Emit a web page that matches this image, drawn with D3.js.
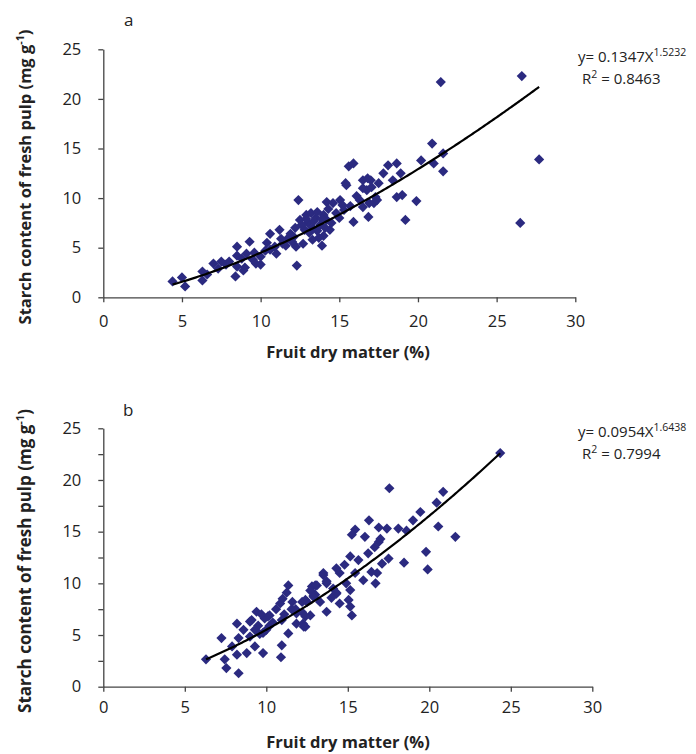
<!DOCTYPE html>
<html>
<head>
<meta charset="utf-8">
<script src="https://cdn.jsdelivr.net/npm/d3@7"></script>
<style>
	body { margin: 0; background: #fff; }
	text { font-family: "Open Sans", "Noto Sans", sans-serif; fill: #222; }
</style>
</head>
<body>
<div id="chart"></div>
<script>
	// panel a : fruit dry matter (%) vs starch (mg g-1)
	var dryA = [4.4, 5.0, 5.2, 6.3, 6.3, 6.6, 7.0, 7.5, 7.8, 8.5, 8.5, 8.5, 8.4, 8.9, 8.8, 9.3, 9.1, 9.5, 9.7, 10.0,
		10.0, 10.3, 10.6, 10.6, 10.9, 11.2, 11.0, 11.4, 11.7, 12.1, 12.3, 12.4, 12.5, 12.2, 12.9, 12.7, 12.25, 13.2, 13.0, 13.3,
		13.5, 13.6, 13.8, 13.9, 14.0, 14.2, 14.2, 14.0, 13.4, 13.1, 12.8, 12.6, 11.9, 11.6, 13.7, 14.4, 14.6, 15.05, 15.3, 15.4,
		15.6, 15.9, 15.9, 16.3, 16.5, 16.75, 16.85, 17.05, 17.3, 17.5, 17.8, 18.1, 18.65, 18.9, 18.65, 19.0, 19.2, 19.9, 20.2, 20.9,
		21.0, 21.6, 21.6, 21.45, 26.6, 27.7, 26.5, 16.5, 17.2, 16.5, 18.4, 17.4, 15.45, 14.8, 14.5, 15.0, 13.3, 12.0, 10.4, 9.0,
		11.3, 15.7, 16.1, 17.0, 16.8, 13.9, 14.1, 12.9, 13.6, 15.2, 8.0, 9.6, 7.3, 14.3, 16.9];
	var starchA = [1.6, 2.0, 1.1, 2.6, 1.7, 2.3, 3.4, 3.6, 3.3, 5.1, 4.2, 3.1, 2.1, 2.7, 3.9, 5.6, 4.4, 3.8, 3.4, 4.1,
		3.3, 4.7, 6.4, 4.8, 5.1, 6.8, 4.4, 5.4, 5.9, 6.1, 3.2, 9.8, 7.8, 7.0, 8.3, 5.4, 5.1, 8.5, 7.5, 7.0,
		8.0, 6.7, 7.3, 5.2, 6.2, 7.8, 9.6, 8.3, 7.7, 6.5, 6.8, 7.3, 6.4, 5.2, 6.0, 6.8, 9.5, 9.8, 8.8, 11.5,
		13.2, 13.5, 7.6, 9.8, 11.8, 10.8, 8.1, 11.1, 10.1, 11.5, 12.5, 13.3, 13.5, 12.5, 10.1, 10.3, 7.8, 9.7, 13.8, 15.5,
		13.5, 14.5, 12.7, 21.7, 22.3, 13.9, 7.5, 9.1, 9.5, 11.0, 11.8, 9.8, 11.3, 8.5, 7.5, 8.0, 5.8, 5.6, 5.5, 3.0,
		5.9, 9.2, 10.2, 11.8, 12.0, 7.9, 7.0, 7.9, 8.6, 9.3, 3.6, 4.5, 2.9, 8.9, 9.5];

	// panel b
	var dryB = [6.3, 7.25, 7.45, 7.55, 8.2, 8.3, 8.2, 8.3, 7.9, 8.8, 9.0, 9.1, 9.4, 9.5, 9.3, 9.8, 9.8, 10.1, 10.2, 10.85,
		10.95, 10.95, 10.9, 11.25, 11.35, 11.35, 11.55, 11.85, 12.2, 12.4, 12.7, 12.8, 12.9, 13.5, 13.7, 13.7, 14.3, 14.3, 9.0, 9.3,
		9.6, 9.9, 10.0, 10.2, 11.8, 11.85, 12.25, 12.2, 12.5, 13.0, 13.0, 12.7, 17.55, 20.85, 20.45, 19.45, 19.0, 21.6, 20.55, 19.8,
		19.9, 18.45, 18.1, 18.6, 17.4, 16.9, 16.3, 16.05, 15.45, 15.25, 16.9, 17.0, 16.65, 16.25, 17.5, 17.1, 15.15, 15.65, 14.8, 14.5,
		15.45, 16.45, 16.8, 16.7, 15.95, 13.5, 13.7, 13.1, 12.9, 14.1, 14.9, 15.15, 15.05, 15.15, 15.25, 14.5, 14.3, 12.4, 12.4, 12.3,
		24.35, 11.0, 10.6, 9.7, 8.6, 10.4, 11.1, 11.6, 13.3, 14.0];
	var starchB = [2.65, 4.7, 2.65, 1.8, 6.1, 4.7, 3.1, 1.3, 3.9, 3.25, 4.85, 6.45, 7.25, 5.9, 3.9, 3.25, 5.2, 6.8, 5.9, 8.05,
		6.45, 4.0, 2.85, 9.1, 9.8, 5.15, 7.5, 7.1, 8.2, 5.8, 6.9, 9.7, 8.8, 10.8, 10.0, 7.25, 11.45, 9.0, 6.3, 5.5,
		5.1, 6.6, 5.5, 6.9, 7.5, 6.1, 6.1, 7.2, 8.2, 9.8, 8.9, 9.3, 19.2, 18.85, 17.8, 16.9, 16.1, 14.5, 15.5, 13.05,
		11.35, 12.0, 15.3, 15.1, 15.3, 15.4, 16.1, 14.5, 15.2, 14.7, 14.0, 14.3, 13.5, 12.9, 12.4, 11.9, 12.6, 12.25, 11.8, 11.0,
		11.0, 11.1, 11.0, 10.0, 10.3, 11.0, 10.2, 9.8, 8.7, 9.5, 10.0, 9.35, 8.4, 7.75, 6.9, 8.05, 9.1, 8.4, 6.8, 5.8,
		22.6, 8.5, 7.5, 7.0, 5.5, 6.2, 7.0, 8.2, 8.2, 8.6];

	var xTicks = [0, 5, 10, 15, 20, 25, 30];
	var yTicks = [0, 5, 10, 15, 20, 25];
	// power trend lines  y = a * x^b
	var fitA = { a: 0.1347, b: 1.5232, from: 4.4, to: 27.7, eq: "0.1347", pow: "1.5232", r2: "0.8463" };
	var fitB = { a: 0.1433, b: 1.585, from: 6.3, to: 24.35, eq: "0.0954", pow: "1.6438", r2: "0.7994" };

	var width = 696, height = 754;
	var svg = d3.select("#chart").append("svg").attr("width", width).attr("height", height);

	const diamond = d3.symbol().type(d3.symbolSquare).size(52);

	function drawPanel(opt) {
		var x = d3.scaleLinear().domain([0, 30]).range(opt.xr);
		var y = d3.scaleLinear().domain([0, 25]).range(opt.yr);
		var g = svg.append("g");

		var xa = g.append("g").attr("transform", `translate(0,${opt.yr[0]})`)
			.call(d3.axisBottom(x).tickValues(xTicks).tickSize(5).tickPadding(opt.xPad).tickSizeOuter(0));
		var ya = g.append("g").attr("transform", `translate(${opt.xr[0]},0)`)
			.call(d3.axisLeft(y).tickValues(opt.yTickVals).tickSize(5).tickPadding(17).tickSizeOuter(0)
				.tickFormat(d => d % 5 === 0 ? d : ""));
		[xa, ya].forEach(a => {
			a.selectAll("path, line").attr("stroke", "#444").attr("stroke-width", 1.3);
			a.selectAll("text").style("font-size", "16.5px").attr("fill", "#222");
		});

		// points
		g.append("g").selectAll("path").data(opt.xs.map((d, i) => [d, opt.ys[i]])).join("path")
			.attr("d", diamond)
			.attr("transform", d => `translate(${x(d[0])},${y(d[1])}) rotate(45)`)
			.attr("fill", "#2b2a80");

		// trend line
		var f = opt.fit;
		var line = d3.line().x(d => x(d)).y(d => y(f.a * Math.pow(d, f.b)));
		g.append("path").datum(d3.range(f.from, f.to, 0.1).concat([f.to]))
			.attr("d", line).attr("fill", "none").attr("stroke", "#000").attr("stroke-width", 2.2);

		// titles
		g.append("text").attr("x", opt.letterX).attr("y", opt.letterY).style("font-size", "17px").text(opt.letter);
		g.append("text").attr("x", 348).attr("y", opt.xTitleY)
			.attr("text-anchor", "middle").style("font-size", "16.5px").style("font-weight", "bold")
			.text("Fruit dry matter (%)");
		var yt = g.append("text").attr("transform", `translate(${opt.yTitleX},${opt.yTitleY}) rotate(-90)`)
			.attr("text-anchor", "middle").style("font-size", opt.yTitleSize + "px").style("font-weight", "bold");
		yt.append("tspan").text("Starch content of  fresh pulp (mg g");
		yt.append("tspan").attr("dy", -7).style("font-size", (opt.yTitleSize * 0.65) + "px").text("-1");
		yt.append("tspan").attr("dy", 7).text(")");

		var eq = g.append("text").attr("x", 578).attr("y", opt.eqY).style("font-size", "15px");
		eq.append("tspan").text("y= " + f.eq + "X");
		eq.append("tspan").attr("dy", -6).style("font-size", "10.5px").text(f.pow);
		var r2 = g.append("text").attr("x", 582).attr("y", opt.eqY + 22).style("font-size", "15px");
		r2.append("tspan").text("R");
		r2.append("tspan").attr("dy", -6).style("font-size", "10.5px").text("2");
		r2.append("tspan").attr("dy", 6).text(" = " + f.r2);
	}

	drawPanel({
		xr: [103.3, 575.3], yr: [297.3, 49.3], yTickVals: yTicks, xs: dryA, ys: starchA, fit: fitA, xPad: 13,
		letter: "a", letterX: 124, letterY: 26, xTitleY: 358, yTitleX: 31, yTitleY: 177, yTitleSize: 16.5, eqY: 62
	});
	drawPanel({
		xr: [103.3, 592.3], yr: [686.7, 428.3], yTickVals: d3.range(0, 25.1, 2.5), xs: dryB, ys: starchB, fit: fitB, xPad: 10,
		letter: "b", letterX: 123, letterY: 416, xTitleY: 748, yTitleX: 31, yTitleY: 561, yTitleSize: 17, eqY: 437
	});
</script>
</body>
</html>
